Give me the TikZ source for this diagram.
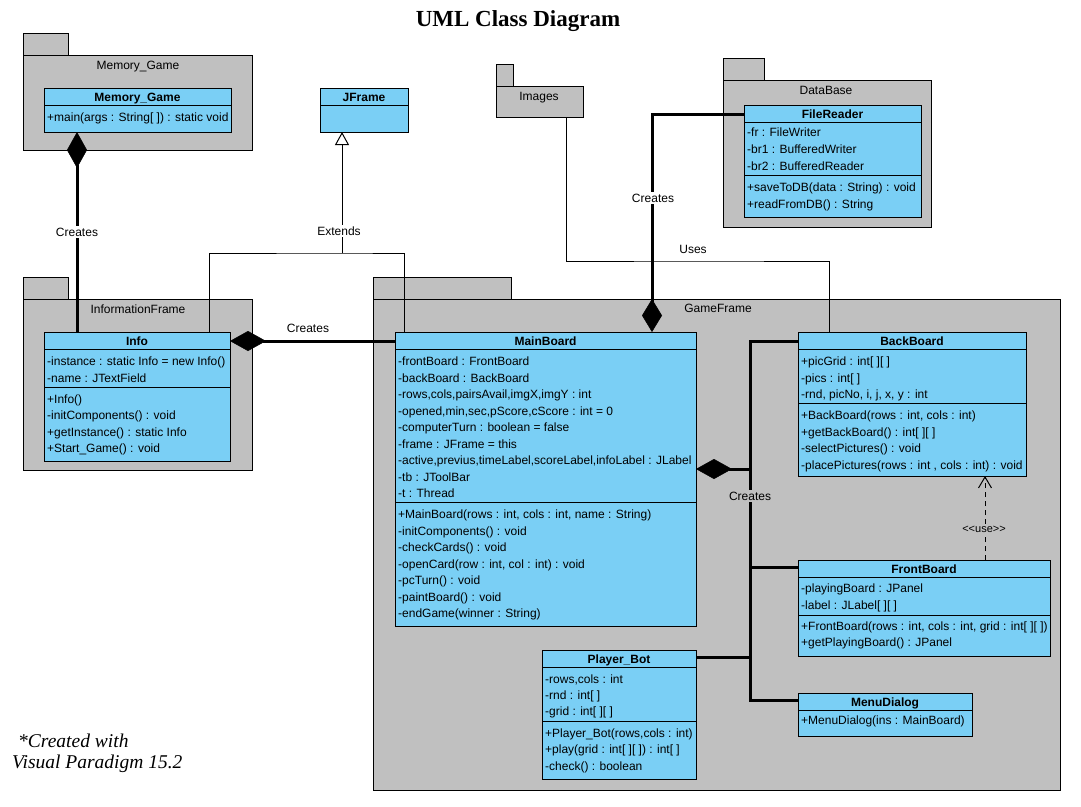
\documentclass[tikz,border=0pt]{standalone}
\usepackage{fontspec}
\setmainfont{Liberation Sans}
\newfontfamily\seriffont{Liberation Serif}
\usetikzlibrary{arrows.meta}
\definecolor{clsblue}{RGB}{122,207,245}
\definecolor{pkggray}{RGB}{192,192,192}
\newcommand\umlcls[6]{%
  \node[cls, minimum width=#4pt, minimum height=#5pt] (#1) at (#2,#3) {};
  \node[hdr] (#1-h) at ([yshift=-8.5pt]#1.north) {#6};
  \draw[sepline] ([yshift=-17pt]#1.north west) -- ([yshift=-17pt]#1.north east);
}
\newcommand\csep[2]{\draw[sepline] ([yshift=-#2pt]#1.north west) -- ([yshift=-#2pt]#1.north east);}
\newcommand\umlpkg[6]{%
  \node[pkg, minimum width=#4pt, minimum height=22pt, anchor=south west] (#1-tab) at (#2,#3) {};
  \node[pkg, minimum width=#5pt, minimum height=#6pt] (#1) at (#2,#3) {};
}
\begin{document}
\begin{tikzpicture}[x=1pt,y=-1pt,
  pkg/.style={draw=black, fill=pkggray, line width=1pt, inner sep=0pt, outer sep=0pt, anchor=north west},
  cls/.style={draw=black, fill=clsblue, line width=1pt, inner sep=0pt, outer sep=0pt, anchor=north west},
  txt/.style={font=\fontsize{12}{14}\selectfont, inner sep=0pt, anchor=base west, yshift=-4.3pt},
  ctxt/.style={font=\fontsize{12}{14}\selectfont, inner sep=0pt, anchor=base, yshift=-4.3pt},
  hdr/.style={font=\fontsize{12}{14}\selectfont\bfseries, inner sep=0pt, anchor=base, yshift=-4.6pt},
  sepline/.style={line width=1pt},
  thinline/.style={line width=1pt},
  busline/.style={line width=3pt},
  compo/.style={line width=3pt, {Diamond[length=36pt,width=20pt,line width=0.5pt]}-},
  compov/.style={line width=3pt, {Diamond[length=33pt,width=20pt,line width=0.5pt]}-},
  lbl/.style={font=\fontsize{12}{14}\selectfont, inner sep=1.5pt, anchor=center},
]
\useasboundingbox (0,0) rectangle (1081,806);
\fill[white] (0,0) rectangle (1081,806);

% title
\node[font=\seriffont\bfseries\fontsize{23}{26}\selectfont, anchor=base, inner sep=0pt] (title) at (518,26) {UML Class Diagram};

% packages
\umlpkg{pmg}{23}{55}{45}{229}{95}
\umlpkg{pif}{23}{299}{45}{229}{171}
\umlpkg{pgf}{373}{299}{138}{687}{491}
\umlpkg{img}{496}{86}{17}{87}{31}
\umlpkg{pdb}{723}{80}{41}{208}{147}
\node[ctxt] (pmg-l) at (138,65) {Memory\_Game};
\node[ctxt] (pif-l) at (138,309) {InformationFrame};
\node[ctxt] (pgf-l) at (718,308) {GameFrame};
\node[ctxt] (img-l) at (539,96) {Images};
\node[ctxt] (pdb-l) at (826,90) {DataBase};

% classes
\umlcls{mgc}{44}{88}{187}{44}{Memory\_Game}
\node[txt] (mgc-m1) at (47,117) {+main(args : String[ ]) : static void};

\umlcls{jf}{320}{88}{88}{44}{JFrame}

\umlcls{info}{44}{332}{186}{129}{Info}
\node[txt] (info-a1) at (47,361) {-instance : static Info = new Info()};
\node[txt] (info-a2) at (47,378) {-name : JTextField};
\csep{info}{55}
\node[txt] (info-m1) at (47,399) {+Info()};
\node[txt] (info-m2) at (47,415) {-initComponents() : void};
\node[txt] (info-m3) at (47,432) {+getInstance() : static Info};
\node[txt] (info-m4) at (47,448) {+Start\_Game() : void};

\umlcls{mb}{395}{332}{301}{294}{MainBoard}
\node[txt] (mb-a1) at (398,361) {-frontBoard : FrontBoard};
\node[txt] (mb-a2) at (398,378) {-backBoard : BackBoard};
\node[txt] (mb-a3) at (398,394) {-rows,cols,pairsAvail,imgX,imgY : int};
\node[txt] (mb-a4) at (398,411) {-opened,min,sec,pScore,cScore : int = 0};
\node[txt] (mb-a5) at (398,427) {-computerTurn : boolean = false};
\node[txt] (mb-a6) at (398,444) {-frame : JFrame = this};
\node[txt] (mb-a7) at (398,460) {-active,previus,timeLabel,scoreLabel,infoLabel : JLabel};
\node[txt] (mb-a8) at (398,477) {-tb : JToolBar};
\node[txt] (mb-a9) at (398,493) {-t : Thread};
\csep{mb}{170}
\node[txt] (mb-m1) at (398,514) {+MainBoard(rows : int, cols : int, name : String)};
\node[txt] (mb-m2) at (398,531) {-initComponents() : void};
\node[txt] (mb-m3) at (398,547) {-checkCards() : void};
\node[txt] (mb-m4) at (398,564) {-openCard(row : int, col : int) : void};
\node[txt] (mb-m5) at (398,580) {-pcTurn() : void};
\node[txt] (mb-m6) at (398,597) {-paintBoard() : void};
\node[txt] (mb-m7) at (398,613) {-endGame(winner : String)};

\umlcls{fr}{744}{105}{177}{112}{FileReader}
\node[txt] (fr-a1) at (747,132) {-fr : FileWriter};
\node[txt] (fr-a2) at (747,149) {-br1 : BufferedWriter};
\node[txt] (fr-a3) at (747,166) {-br2 : BufferedReader};
\csep{fr}{70}
\node[txt] (fr-m1) at (747,187) {+saveToDB(data : String) : void};
\node[txt] (fr-m2) at (747,204) {+readFromDB() : String};

\umlcls{bb}{798}{332}{228}{144}{BackBoard}
\node[txt] (bb-a1) at (801,361) {+picGrid : int[ ][ ]};
\node[txt] (bb-a2) at (801,378) {-pics : int[ ]};
\node[txt] (bb-a3) at (801,394) {-rnd, picNo, i, j, x, y : int};
\csep{bb}{71}
\node[txt] (bb-m1) at (801,415) {+BackBoard(rows : int, cols : int)};
\node[txt] (bb-m2) at (801,432) {+getBackBoard() : int[ ][ ]};
\node[txt] (bb-m3) at (801,448) {-selectPictures() : void};
\node[txt] (bb-m4) at (801,465) {-placePictures(rows : int , cols : int) : void};

\umlcls{fb}{798}{560}{252}{96}{FrontBoard}
\node[txt] (fb-a1) at (801,588) {-playingBoard : JPanel};
\node[txt] (fb-a2) at (801,605) {-label : JLabel[ ][ ]};
\csep{fb}{55}
\node[txt] (fb-m1) at (801,626) {+FrontBoard(rows : int, cols : int, grid : int[ ][ ])};
\node[txt] (fb-m2) at (801,642) {+getPlayingBoard() : JPanel};

\umlcls{pb}{542}{650}{154}{129}{Player\_Bot}
\node[txt] (pb-a1) at (545,679) {-rows,cols : int};
\node[txt] (pb-a2) at (545,695) {-rnd : int[ ]};
\node[txt] (pb-a3) at (545,711) {-grid : int[ ][ ]};
\csep{pb}{71}
\node[txt] (pb-m1) at (545,733) {+Player\_Bot(rows,cols : int)};
\node[txt] (pb-m2) at (545,749) {+play(grid : int[ ][ ]) : int[ ]};
\node[txt] (pb-m3) at (545,766) {-check() : boolean};

\umlcls{md}{798}{693}{174}{43}{MenuDialog}
\node[txt] (md-m1) at (801,720) {+MenuDialog(ins : MainBoard)};

% connectors
\draw[compo] ([xshift=33pt]mgc.south west) -- ([xshift=33pt]info.north west);
\node[lbl, fill=white] (l-mg) at (77,232) {Creates};

\coordinate (ej) at (342,253);
\draw[thinline, -{Triangle[open,length=13pt,width=14pt,line width=1pt]}] (ej) -- ([xshift=22pt]jf.south west);
\draw[thinline] ([xshift=165pt]info.north west) |- (ej) -| ([xshift=9pt]mb.north west);
\node[lbl, fill=white] (l-ext) at (339,231) {Extends};

\draw[compo] ([yshift=-9pt]info.north east) -- ([yshift=-9pt]mb.north west);
\node[lbl] (l-if) at (308,328) {Creates};

\draw[compov] ([xshift=257pt]mb.north west) |- ([yshift=-9pt]fr.north west);
\node[lbl, fill=white] (l-fr) at (653,198) {Creates};

\coordinate (uj) at (700,261);
\draw[thinline] ([xshift=70pt]img.south west) |- (uj) -| ([xshift=31pt]bb.north west);
\node[lbl] (l-uses) at (693,249) {Uses};

\draw[thinline, dash pattern=on 5pt off 4pt, -{Straight Barb[length=11pt,width=13pt,line width=1pt]}] ([xshift=187pt]fb.north west) -- ([xshift=187pt]bb.south west);
\node[lbl, fill=pkggray, font=\fontsize{11}{13}\selectfont] (l-use) at (984,529) {<\kern0pt<use>\kern0pt>};

\coordinate (bj) at (750,469);
\draw[compo] ([yshift=-137pt]mb.north east) -- (bj);
\draw[busline] ([yshift=-9pt]bb.north west) -| (bj);
\draw[busline] ([yshift=-7pt]fb.north west) -| (bj);
\draw[busline] ([yshift=-7pt]md.north west) -| (bj);
\draw[busline] ([yshift=-7pt]pb.north east) -| (bj);
\node[lbl, fill=pkggray] (l-bus) at (750,496) {Creates};

% footer
\node[font=\seriffont\itshape\fontsize{19.5}{22}\selectfont, anchor=base west, inner sep=0pt] (foot1) at (18,747) {*Created with};
\node[font=\seriffont\itshape\fontsize{19.5}{22}\selectfont, anchor=base west, inner sep=0pt] (foot2) at (12,768) {Visual Paradigm 15.2};
\end{tikzpicture}
\end{document}
